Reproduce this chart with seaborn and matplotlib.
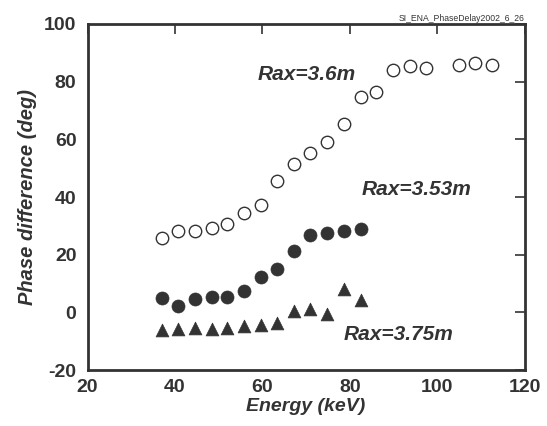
import numpy as np
import pandas as pd
import matplotlib
matplotlib.use("Agg")
import matplotlib.pyplot as plt
import seaborn as sns

# Datos
energy_36 = [37.0, 40.8, 44.7, 48.4, 52.0, 55.9, 59.7, 63.4, 67.2, 71.0,
             74.8, 78.6, 82.5, 86.1, 89.9, 93.7, 97.4, 104.9, 108.7, 112.5]
phase_36 = [25.9, 28.4, 28.2, 29.4, 30.8, 34.3, 37.1, 45.7, 51.6, 55.3,
            59.0, 65.3, 74.5, 76.3, 83.9, 85.5, 84.7, 85.6, 86.4, 85.6]

energy_353 = [37.0, 40.8, 44.7, 48.4, 52.0, 55.9, 59.7, 63.4, 67.2, 71.0,
              74.8, 78.6, 82.5]
phase_353 = [4.9, 2.3, 4.6, 5.2, 5.5, 7.3, 12.4, 15.0, 21.3, 26.7,
             27.4, 28.2, 29.0]

energy_375 = [37.0, 40.8, 44.7, 48.4, 52.0, 55.9, 59.7, 63.4, 67.2, 71.0,
              74.8, 78.6, 82.5]
phase_375 = [-6.1, -5.8, -5.5, -5.8, -5.5, -4.6, -4.3, -3.5, 0.6, 1.1,
             -0.4, 8.1, 4.4]

xticks = [20, 40, 60, 80, 100, 120]
yticks = [-20, 0, 20, 40, 60, 80, 100]

sns.set_style("white")
plt.rcParams['font.family'] = ['Liberation Sans', 'DejaVu Sans']
ink = '#333333'

fig = plt.figure(figsize=(5.47, 4.26), dpi=100)
ax = fig.add_axes([0.160, 0.131, 0.799, 0.813])

sns.scatterplot(x=energy_36, y=phase_36, ax=ax, marker='o', s=80,
                facecolor='white', edgecolor=ink, linewidth=1.0)
sns.scatterplot(x=energy_353, y=phase_353, ax=ax, marker='o', s=88,
                color=ink, edgecolor=ink, linewidth=0.5)
sns.scatterplot(x=energy_375, y=phase_375, ax=ax, marker='^', s=85,
                color=ink, edgecolor=ink, linewidth=0.5)

ax.set_xlim(20, 120)
ax.set_ylim(-20, 100)
ax.set_xticks(xticks)
ax.set_yticks(yticks)
ax.set_xticklabels([str(t) for t in xticks], fontsize=14, fontweight='bold', color=ink)
ax.set_yticklabels([str(t) for t in yticks], fontsize=14, fontweight='bold', color=ink)
ax.tick_params(direction='in', length=7, width=1.2, color=ink,
               top=True, right=True)
ax.tick_params(axis='x', pad=6)
ax.tick_params(axis='y', pad=8)
for sp in ax.spines.values():
    sp.set_linewidth(2.0)
    sp.set_color(ink)

ax.set_xlabel('Energy (keV)', fontsize=14, fontweight='bold', style='italic',
              color=ink, labelpad=2)
ax.set_ylabel('Phase difference (deg)', fontsize=14.5, fontweight='bold',
              style='italic', color=ink, labelpad=5)

ax.text(59.0, 82.3, 'Rax=3.6m', fontsize=15, fontweight='bold', style='italic',
        color=ink, va='center', ha='left')
ax.text(82.8, 42.6, 'Rax=3.53m', fontsize=15, fontweight='bold', style='italic',
        color=ink, va='center', ha='left')
ax.text(78.7, -7.5, 'Rax=3.75m', fontsize=15, fontweight='bold', style='italic',
        color=ink, va='center', ha='left')
ax.text(120, 100.2, 'SI_ENA_PhaseDelay2002_6_26', fontsize=6.2, color=ink,
        ha='right', va='bottom')

fig.savefig('out.png', dpi=100)
